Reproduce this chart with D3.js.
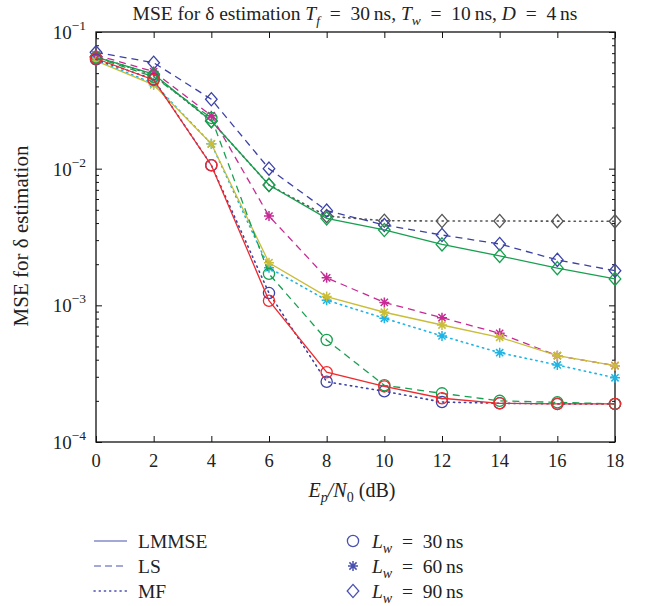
<!DOCTYPE html>
<html>
<head>
<meta charset="utf-8">
<script src="https://cdn.jsdelivr.net/npm/d3@7"></script>
<style>
  html, body { margin: 0; padding: 0; background: #fff; }
  svg { display: block; }
  text { font-family: "Liberation Serif", "DejaVu Serif", serif; fill: #222; }
</style>
</head>
<body>
<svg id="chart" width="651" height="606"></svg>
<script>
// Ep/N0 grid (dB)
const snr = [0, 2, 4, 6, 8, 10, 12, 14, 16, 18];
const xTicks = [0, 2, 4, 6, 8, 10, 12, 14, 16, 18];
const yDecades = [-4, -3, -2, -1];

// MSE per estimator, window length L_w = 30 ns
const lmmse30 = [0.064, 0.0446, 0.0106, 0.00108, 0.000324, 0.000255, 0.000209, 0.000192, 0.00019, 0.00019];
const ls30    = [0.065, 0.047, 0.0235, 0.0017, 0.000558, 0.00026, 0.000227, 0.0002, 0.000195, 0.00019];
const mf30    = [0.063, 0.045, 0.0106, 0.00123, 0.000276, 0.000235, 0.000196, 0.000192, 0.00019, 0.00019];
// L_w = 60 ns
const lmmse60 = [0.0614, 0.041, 0.0152, 0.00205, 0.00116, 0.00089, 0.000718, 0.000584, 0.000428, 0.000362];
const ls60    = [0.0679, 0.0513, 0.0244, 0.0045, 0.00159, 0.00105, 0.000812, 0.000624, 0.000428, 0.000362];
const mf60    = [0.0625, 0.042, 0.0152, 0.00188, 0.00109, 0.000804, 0.000597, 0.00045, 0.000366, 0.000295];
// L_w = 90 ns
const lmmse90 = [0.0656, 0.0492, 0.0223, 0.0076, 0.00433, 0.00356, 0.00279, 0.0023, 0.00187, 0.00156];
const ls90    = [0.071, 0.0596, 0.0322, 0.0100, 0.00493, 0.00387, 0.00327, 0.00281, 0.00215, 0.00179];
const mf90    = [0.066, 0.0484, 0.0223, 0.0076, 0.0045, 0.00416, 0.00414, 0.00414, 0.00413, 0.00412];

const methodNames = ["LMMSE", "LS", "MF"];
const windowNames = ["30", "60", "90"];

const dash = { LMMSE: null, LS: "7,5", MF: "1.3,4.2" };

// drawing order: underlying curves first
const series = [
  { v: mf90,    method: "MF",    marker: "diamond", color: "#555555" },
  { v: ls90,    method: "LS",    marker: "diamond", color: "#3b42a6" },
  { v: lmmse90, method: "LMMSE", marker: "diamond", color: "#16a04f" },
  { v: mf60,    method: "MF",    marker: "star",    color: "#1eb4e4" },
  { v: ls60,    method: "LS",    marker: "star",    color: "#c72a94" },
  { v: lmmse60, method: "LMMSE", marker: "star",    color: "#c9bd3a" },
  { v: mf30,    method: "MF",    marker: "circle",  color: "#3b42a6" },
  { v: ls30,    method: "LS",    marker: "circle",  color: "#16a04f" },
  { v: lmmse30, method: "LMMSE", marker: "circle",  color: "#ee2a2e" }
];

const svg = d3.select("#chart");
const L = 96, R = 615, T = 32, B = 442;

const x = d3.scaleLinear().domain([0, 18]).range([L, R]);
const y = d3.scaleLog().domain([1e-4, 1e-1]).range([B, T]);

const minorVals = [];
for (let e = -4; e < -1; e++) for (let m = 2; m <= 9; m++) minorVals.push(m * Math.pow(10, e));
const majorVals = yDecades.map(e => Math.pow(10, e));

function styleAxis(g) {
  g.select(".domain").remove();
  g.selectAll(".tick line").attr("stroke", "#111").attr("stroke-width", 1);
}

// ticks on all four sides, pointing inward
svg.append("g").attr("transform", `translate(${L},0)`)
  .call(d3.axisLeft(y).tickValues(majorVals).tickSize(-6).tickFormat("")).call(styleAxis);
svg.append("g").attr("transform", `translate(${L},0)`)
  .call(d3.axisLeft(y).tickValues(minorVals).tickSize(-3).tickFormat("")).call(styleAxis);
svg.append("g").attr("transform", `translate(${R},0)`)
  .call(d3.axisRight(y).tickValues(majorVals).tickSize(-6).tickFormat("")).call(styleAxis);
svg.append("g").attr("transform", `translate(${R},0)`)
  .call(d3.axisRight(y).tickValues(minorVals).tickSize(-3).tickFormat("")).call(styleAxis);
svg.append("g").attr("transform", `translate(0,${B})`)
  .call(d3.axisBottom(x).tickValues(xTicks).tickSize(-6).tickFormat("")).call(styleAxis);
svg.append("g").attr("transform", `translate(0,${T})`)
  .call(d3.axisTop(x).tickValues(xTicks).tickSize(-6).tickFormat("")).call(styleAxis);

// plot box
svg.append("rect").attr("x", L).attr("y", T).attr("width", R - L).attr("height", B - T)
  .attr("fill", "none").attr("stroke", "#111").attr("stroke-width", 1.3);

// x tick labels
svg.append("g").selectAll("text").data(xTicks).join("text")
  .attr("x", d => x(d)).attr("y", B + 25)
  .attr("text-anchor", "middle").attr("font-size", 18.5)
  .text(d => d);

// y tick labels 10^k
const yl = svg.append("g").selectAll("text").data(yDecades).join("text")
  .attr("x", 86).attr("y", d => y(Math.pow(10, d)) + 7)
  .attr("text-anchor", "end").attr("font-size", 19);
yl.append("tspan").text("10");
yl.append("tspan").attr("dy", -9).attr("font-size", 13.5).text(d => "\u2212" + Math.abs(d));

// series lines
const line = d3.line().x((d, i) => x(snr[i])).y(d => y(d));
const plot = svg.append("g");

function drawMarker(g, type, cx, cy, color) {
  if (type === "circle") {
    g.append("circle").attr("cx", cx).attr("cy", cy).attr("r", 5.6)
      .attr("fill", "none").attr("stroke", color).attr("stroke-width", 1.3);
  } else if (type === "diamond") {
    const w = 5.8, h = 6.6;
    g.append("path").attr("d", `M${cx},${cy - h}L${cx + w},${cy}L${cx},${cy + h}L${cx - w},${cy}Z`)
      .attr("fill", "none").attr("stroke", color).attr("stroke-width", 1.3);
  } else {
    const s = 5, d = 3.6;
    g.append("path")
      .attr("d", `M${cx - s},${cy}L${cx + s},${cy}M${cx},${cy - s}L${cx},${cy + s}` +
                 `M${cx - d},${cy - d}L${cx + d},${cy + d}M${cx - d},${cy + d}L${cx + d},${cy - d}`)
      .attr("fill", "none").attr("stroke", color).attr("stroke-width", 1.5);
  }
}

series.forEach(s => {
  plot.append("path").datum(s.v)
    .attr("d", line).attr("fill", "none")
    .attr("stroke", s.color).attr("stroke-width", s.method === "MF" ? 1.6 : 1.3)
    .attr("stroke-linecap", s.method === "MF" ? "round" : "butt")
    .attr("stroke-dasharray", dash[s.method]);
  const mg = plot.append("g");
  s.v.forEach((v, i) => drawMarker(mg, s.marker, x(snr[i]), y(v), s.color));
});

// math-style spacing around "="
const EQ = "\u2002=\u2002";

// title
const title = svg.append("text").attr("x", 355).attr("y", 20)
  .attr("text-anchor", "middle").attr("font-size", 19.5);
title.append("tspan").text("MSE for \u03b4 estimation ");
title.append("tspan").attr("font-style", "italic").text("T");
title.append("tspan").attr("font-style", "italic").attr("font-size", 13.5).attr("dy", 5).text("f");
title.append("tspan").attr("dy", -5).text(EQ + "30\u2009ns, ");
title.append("tspan").attr("font-style", "italic").text("T");
title.append("tspan").attr("font-style", "italic").attr("font-size", 13.5).attr("dy", 5).text("w");
title.append("tspan").attr("dy", -5).text(EQ + "10\u2009ns, ");
title.append("tspan").attr("font-style", "italic").text("D");
title.append("tspan").text(EQ + "4\u2009ns");

// x axis label
const xl = svg.append("text").attr("x", 352).attr("y", 497)
  .attr("text-anchor", "middle").attr("font-size", 20);
xl.append("tspan").attr("font-style", "italic").text("E");
xl.append("tspan").attr("font-style", "italic").attr("font-size", 14).attr("dy", 5).text("p");
xl.append("tspan").attr("dy", -5).attr("font-style", "italic").text("/N");
xl.append("tspan").attr("font-size", 14).attr("dy", 5).text("0");
xl.append("tspan").attr("dy", -5).text(" (dB)");

// y axis label
svg.append("text").attr("transform", "translate(28,236) rotate(-90)")
  .attr("text-anchor", "middle").attr("font-size", 21)
  .text("MSE for \u03b4 estimation");

// legend: line styles
const legColor = "#4a52b0";
const legY = [541, 566, 591];
const lg = svg.append("g");
methodNames.forEach((m, i) => {
  lg.append("line").attr("x1", 94).attr("x2", 127).attr("y1", legY[i]).attr("y2", legY[i])
    .attr("stroke", legColor).attr("stroke-width", m === "MF" ? 1.5 : 1.2)
    .attr("stroke-linecap", m === "MF" ? "round" : "butt")
    .attr("stroke-dasharray", m === "LMMSE" ? null : (m === "LS" ? "7,4" : "1.2,4"));
  lg.append("text").attr("x", 138).attr("y", legY[i] + 7).attr("font-size", 19.5).text(m);
});

// legend: markers
const legMarkers = ["circle", "star", "diamond"];
windowNames.forEach((w, i) => {
  drawMarker(lg, legMarkers[i], 353, legY[i], legColor);
  const t = lg.append("text").attr("x", 372).attr("y", legY[i] + 7).attr("font-size", 19.5);
  t.append("tspan").attr("font-style", "italic").text("L");
  t.append("tspan").attr("font-style", "italic").attr("font-size", 14).attr("dy", 5).text("w");
  t.append("tspan").attr("dy", -5).text(EQ + w + "\u2009ns");
});
</script>
</body>
</html>
